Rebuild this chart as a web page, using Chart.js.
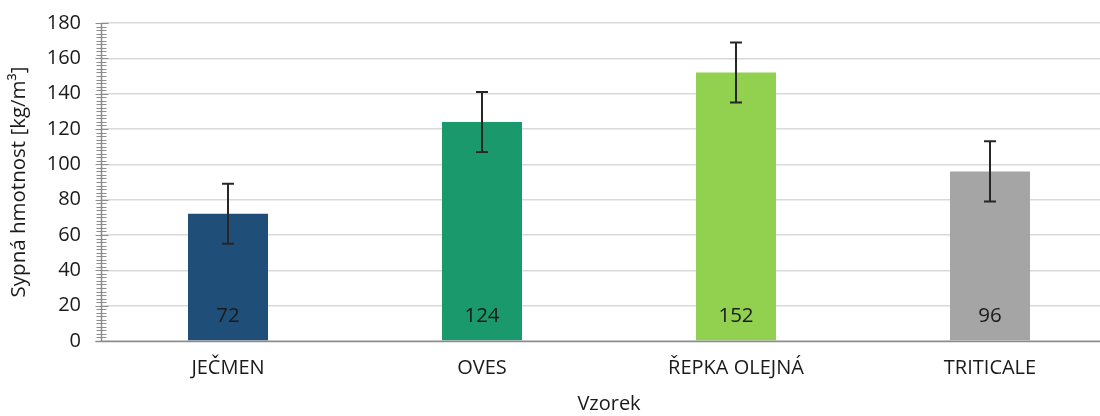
<!DOCTYPE html>
<html lang="cs">

<head>
    <meta charset="UTF-8">
    <title>Sypná hmotnost</title>
    <style>
        body { margin: 0; background: #fff; overflow: hidden; }
        #wrap { width: 1100px; height: 416px; overflow: hidden; }
        #box { width: 1125px; height: 416px; }
    </style>
</head>

<body>
    <div id="wrap">
        <div id="box">
            <canvas id="myChart"></canvas>
        </div>
    </div>
    <script src="https://cdn.jsdelivr.net/npm/chart.js"></script>
    <script>
        const labels = ['JEČMEN', 'OVES', 'ŘEPKA OLEJNÁ', 'TRITICALE'];
        const values = [72, 124, 152, 96];
        const errors = [17, 17, 17, 17];
        const colors = ['#1F4E79', '#1A9A6C', '#92D050', '#A5A5A5'];
        const yTicks = [0, 20, 40, 60, 80, 100, 120, 140, 160, 180];

        const FONT = '"Open Sans", Lato, sans-serif';

        // error bars + value labels + axis ticks drawn over the bars
        const extras = {
            id: 'extras',
            afterDatasetsDraw(chart) {
                const c = chart.ctx;
                const x = chart.scales.x, y = chart.scales.y;
                const meta = chart.getDatasetMeta(0);

                c.save();
                // value labels near the bottom of each bar
                c.fillStyle = '#1a1a1a';
                c.font = '20.5px ' + FONT;
                c.textAlign = 'center';
                c.textBaseline = 'middle';
                meta.data.forEach((bar, i) => {
                    c.fillText(String(values[i]), bar.x, y.getPixelForValue(0) - 25);
                });

                // error bars
                c.strokeStyle = '#262626';
                c.lineWidth = 2;
                meta.data.forEach((bar, i) => {
                    const top = y.getPixelForValue(values[i] + errors[i]);
                    const bot = y.getPixelForValue(values[i] - errors[i]);
                    c.beginPath();
                    c.moveTo(bar.x, top); c.lineTo(bar.x, bot);
                    c.moveTo(bar.x - 6, top); c.lineTo(bar.x + 6, top);
                    c.moveTo(bar.x - 6, bot); c.lineTo(bar.x + 6, bot);
                    c.stroke();
                });

                // axis lines and tick marks
                const ax = Math.round(x.left) + 0.5;
                const base = Math.round(y.getPixelForValue(0)) + 0.5;
                c.strokeStyle = '#8c8c8c';
                c.lineWidth = 1.5;
                c.beginPath();
                c.moveTo(ax, y.getPixelForValue(180)); c.lineTo(ax, base);
                c.moveTo(ax - 6, base); c.lineTo(chart.width, base);
                c.stroke();

                c.lineWidth = 1;
                c.beginPath();
                for (let v = 0; v <= 180; v += 2) {
                    const py = Math.round(y.getPixelForValue(v)) + 0.5;
                    if (v % 20 === 0) {
                        c.moveTo(ax - 6, py); c.lineTo(ax + 7, py);
                    } else {
                        c.moveTo(ax - 5, py); c.lineTo(ax + 5, py);
                    }
                }
                c.stroke();
                c.restore();
            }
        };

        const ctx = document.getElementById('myChart');

        new Chart(ctx, {
            type: 'bar',
            data: {
                labels: labels,
                datasets: [{
                    data: values,
                    backgroundColor: colors,
                    borderWidth: 0,
                    barPercentage: 0.315,
                    categoryPercentage: 1
                }]
            },
            options: {
                responsive: true,
                maintainAspectRatio: false,
                animation: false,
                layout: {
                    padding: { top: 23, right: 8, left: 0, bottom: 0 }
                },
                scales: {
                    x: {
                        offset: true,
                        grid: { display: false, drawTicks: false },
                        border: { display: false },
                        ticks: {
                            color: '#1a1a1a',
                            font: { family: FONT, size: 20 },
                            padding: 15,
                            maxRotation: 0
                        },
                        title: {
                            display: true,
                            text: 'Vzorek',
                            color: '#1a1a1a',
                            font: { family: FONT, size: 20 },
                            padding: { top: 2, bottom: 0 }
                        },
                        afterFit(scale) {
                            scale.height = 75;
                            scale.paddingLeft = 0;
                            scale.paddingRight = 0;
                        }
                    },
                    y: {
                        min: 0,
                        max: 180,
                        afterBuildTicks(scale) {
                            scale.ticks = yTicks.map(v => ({ value: v }));
                        },
                        grid: {
                            color: '#d9d9d9',
                            lineWidth: 1.5,
                            drawTicks: false
                        },
                        border: { display: false },
                        ticks: {
                            color: '#1a1a1a',
                            font: { family: FONT, size: 20 },
                            padding: 20
                        },
                        title: {
                            display: true,
                            text: 'Sypná hmotnost [kg/m³]',
                            color: '#1a1a1a',
                            font: { family: FONT, size: 20.5 },
                            padding: { top: 7, bottom: 4 }
                        },
                        afterFit(scale) {
                            scale.width = 101;
                            scale.paddingTop = 0;
                            scale.paddingBottom = 0;
                        }
                    }
                },
                plugins: {
                    legend: { display: false },
                    tooltip: { enabled: false }
                }
            },
            plugins: [extras]
        });
    </script>
</body>

</html>
